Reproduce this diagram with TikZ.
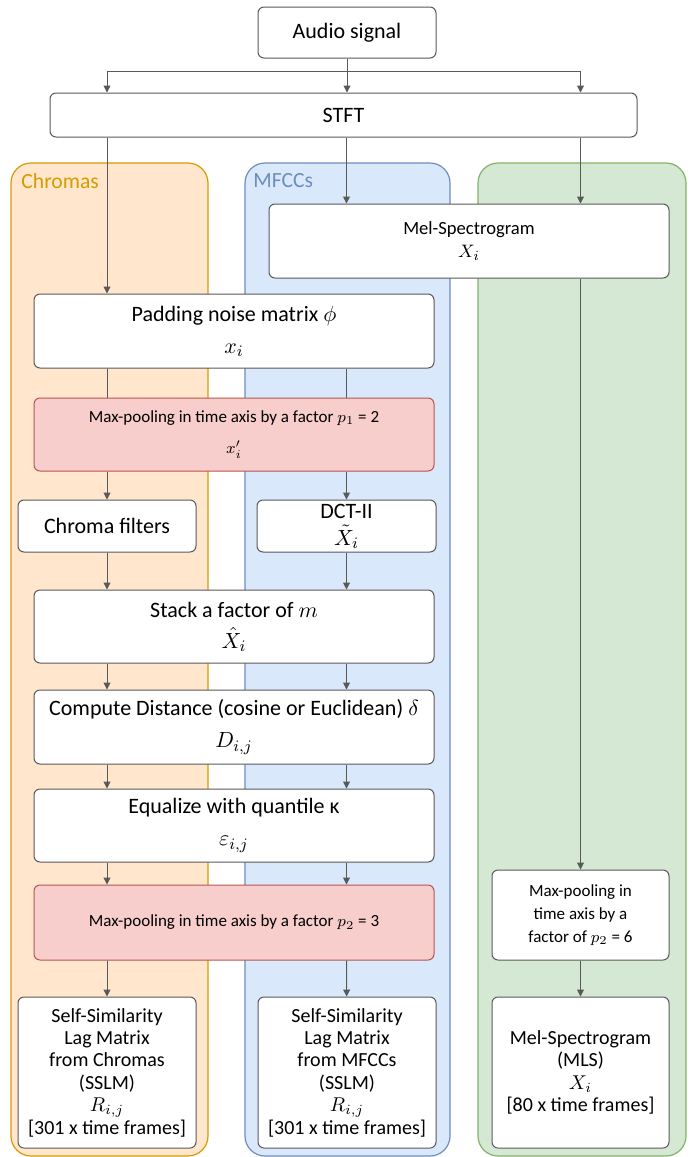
\documentclass[tikz,border=0pt]{standalone}
\usepackage{fontspec}
\setmainfont{Carlito}
\usetikzlibrary{positioning, arrows.meta, calc}

\definecolor{chromafill}{HTML}{FFE6CC}
\definecolor{chromadraw}{HTML}{D79B00}
\definecolor{mfccfill}{HTML}{DAE8FC}
\definecolor{mfccdraw}{HTML}{6C8EBF}
\definecolor{melfill}{HTML}{D5E8D4}
\definecolor{meldraw}{HTML}{82B366}
\definecolor{poolfill}{HTML}{F8CECC}
\definecolor{pooldraw}{HTML}{B85450}
\definecolor{linegray}{HTML}{595959}

\begin{document}
\begin{tikzpicture}[
    x=0.5pt, y=-0.5pt,
    font=\fontsize{11}{13}\selectfont,
    >={Triangle[length=3.5pt,width=3.5pt]},
    box/.style   ={rectangle, rounded corners=3pt, draw=linegray, fill=white, line width=0.5pt, align=center, inner sep=2pt},
    small/.style ={font=\fontsize{8.5}{11}\selectfont},
    result/.style={box, font=\fontsize{10}{11.2}\selectfont},
    pool/.style  ={box, small, draw=pooldraw, fill=poolfill},
    lane/.style  ={rectangle, rounded corners=10pt, line width=0.6pt, minimum height=496.5pt},
    lanelabel/.style={anchor=west, font=\fontsize{10.8}{12}\selectfont, inner sep=0pt},
    arrow/.style ={->, draw=linegray, line width=0.5pt},
    link/.style  ={draw=linegray, line width=0.5pt},
]
\useasboundingbox (0,0) rectangle (694,1157);

%==================== LANES ====================

\node[lane, draw=chromadraw, fill=chromafill, minimum width=98.5pt] (chromalane) at (109.5,659.5) {};
\node[lane, draw=mfccdraw,   fill=mfccfill,   minimum width=102.5pt] (mfcclane) at (347.5,659.5) {};
\node[lane, draw=meldraw,    fill=melfill,    minimum width=104pt] (mellane) at (582,659.5) {};

\node[lanelabel, text=chromadraw] (chromalabel) at (21,181) {Chromas};
\node[lanelabel, text=mfccdraw]   (mfcclabel)   at (253,181) {MFCCs};

%==================== MAIN FLOW ====================

\node[box, minimum width=89pt, minimum height=25.5pt] (audio) at (347,32.5) {Audio signal};
\node[box, minimum width=293.5pt, minimum height=22pt] (stft) at (343.5,115) {STFT};

\node[box, font=\fontsize{9.3}{11.5}\selectfont, minimum width=200pt, minimum height=37pt] (mel) at (469,241)
  {Mel-Spectrogram\\$X_{i}$};

\node[box, minimum width=200pt, minimum height=37pt] (pad) at (234,331)
  {Padding noise matrix $\phi$\\[3pt]$x_{i}$};
\node[pool, minimum width=200pt, minimum height=36.5pt] (pool1) at (234,434.5)
  {Max-pooling in time axis by a factor $p_{1}$ = 2\\[4.5pt]$x'_{i}$};

\node[box, minimum width=89pt, minimum height=26pt] (chf) at (107,526) {Chroma filters};
\node[box, font=\fontsize{11}{12}\selectfont, inner sep=0pt, minimum width=89.5pt, minimum height=26pt] (dct) at (346.5,526)
  {DCT-II\\[1.5pt]$\tilde{X}_{i}$};

\node[box, minimum width=200pt, minimum height=36.5pt] (stack) at (234,626.5)
  {Stack a factor of $m$\\[2.5pt]$\hat{X}_{i}$};
\node[box, minimum width=200pt, minimum height=37pt] (dist) at (234,727)
  {Compute Distance (cosine or Euclidean) $\delta$\\[3pt]$D_{i,j}$};
\node[box, minimum width=200pt, minimum height=36.5pt] (equal) at (234,825.5)
  {Equalize with quantile κ\\[3pt]$\varepsilon_{i,j}$};
\node[pool, minimum width=200pt, minimum height=37.5pt] (pool2) at (234,922.5)
  {Max-pooling in time axis by a factor $p_{2}$ = 3};

\node[result, minimum width=89pt, minimum height=75.5pt] (sslmc) at (107,1072.5)
  {Self-Similarity\\Lag Matrix\\from Chromas\\(SSLM)\\$R_{i,j}$\\{[}301 x time frames{]}};
\node[result, minimum width=89pt, minimum height=75.5pt] (sslmm) at (347,1072.5)
  {Self-Similarity\\Lag Matrix\\from MFCCs\\(SSLM)\\$R_{i,j}$\\{[}301 x time frames{]}};

\node[box, small, font=\fontsize{8.5}{11.5}\selectfont, minimum width=88.5pt, minimum height=45pt] (pool3) at (580.5,915)
  {Max-pooling in\\time axis by a\\factor of $p_{2}$ = 6};
\node[result, minimum width=88.5pt, minimum height=75.5pt] (mls) at (580.5,1072.5)
  {Mel-Spectrogram\\(MLS)\\$X_{i}$\\{[}80 x time frames{]}};

%==================== ARROWS ====================

% fan-out from the audio signal
\draw[arrow] (audio.south) -- ++(0,13) coordinate (fan) -| (stft.north -| chf.north);
\draw[arrow] (fan) -| (stft.north -| mls.north);
\draw[arrow] (audio.south) -- (stft.north -| audio.south);

% chromas column
\draw[arrow] (stft.south -| chf) -- (pad.north -| chf);
\draw[link]  (pad.south -| chf) -- (pool1.north -| chf);
\draw[arrow] (pool1.south -| chf) -- (chf);
\draw[arrow] (chf) -- (stack.north -| chf);
\draw[arrow] (stack.south -| chf) -- (dist.north -| chf);
\draw[arrow] (dist.south -| chf) -- (equal.north -| chf);
\draw[arrow] (equal.south -| chf) -- (pool2.north -| chf);
\draw[arrow] (pool2.south -| chf) -- (sslmc);

% mfccs column
\draw[arrow] (stft.south -| dct) -- (mel.north -| dct);
\draw[link]  (pad.south -| dct) -- (pool1.north -| dct);
\draw[arrow] (pool1.south -| dct) -- (dct);
\draw[arrow] (dct) -- (stack.north -| dct);
\draw[arrow] (stack.south -| dct) -- (dist.north -| dct);
\draw[arrow] (dist.south -| dct) -- (equal.north -| dct);
\draw[arrow] (equal.south -| dct) -- (pool2.north -| dct);
\draw[arrow] (pool2.south -| dct) -- (sslmm);

% mel-spectrogram column
\draw[arrow] (stft.south -| mls) -- (mel.north -| mls);
\draw[arrow] (mel.south -| mls) -- (pool3);
\draw[arrow] (pool3) -- (mls);

\end{tikzpicture}
\end{document}
